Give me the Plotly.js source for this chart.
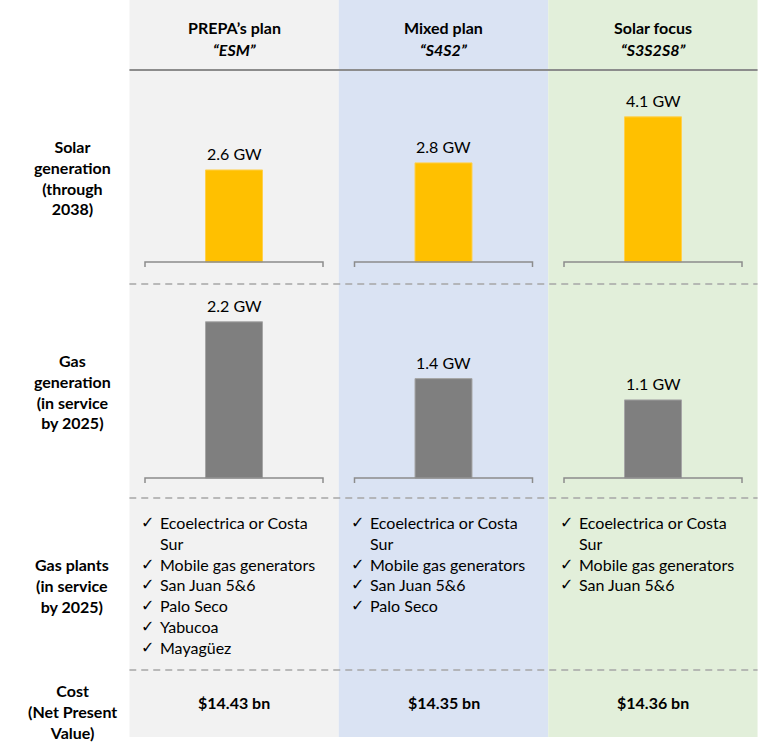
<!DOCTYPE html>
<html>
<head>
<meta charset="utf-8">
<script src="https://cdn.plot.ly/plotly-3.0.1.min.js"></script>
<style>html,body{margin:0;padding:0;background:#fff;}#chart{width:760px;height:752px;}</style>
</head>
<body>
<div id="chart"></div>
<script>
// ---- data ----
const plans = ["PREPA’s plan", "Mixed plan", "Solar focus"];
const planCodes = ["“ESM”", "“S4S2”", "“S3S2S8”"];
const solarGW = [2.6, 2.8, 4.1];
const gasGW = [2.2, 1.4, 1.1];
const gasPlants = [
  ["Ecoelectrica or Costa<br>Sur", "Mobile gas generators", "San Juan 5&6", "Palo Seco", "Yabucoa", "Mayagüez"],
  ["Ecoelectrica or Costa<br>Sur", "Mobile gas generators", "San Juan 5&6", "Palo Seco"],
  ["Ecoelectrica or Costa<br>Sur", "Mobile gas generators", "San Juan 5&6"]
];
const costs = ["$14.43 bn", "$14.35 bn", "$14.36 bn"];
const rowLabels = [
  "Solar<br>generation<br>(through<br>2038)",
  "Gas<br>generation<br>(in service<br>by 2025)",
  "Gas plants<br>(in service<br>by 2025)",
  "Cost<br>(Net Present<br>Value)"
];

// ---- layout helpers ----
const W = 760, H = 752;
const FONT = "Lato, 'Open Sans', sans-serif";
const py = p => 1 - p / H;           // pixel row -> paper y
const colBg = ["#f2f2f2", "#dae3f3", "#e2efda"];
const xLeft = 129.25, xRight = 757.75;
const colW = (xRight - xLeft) / 3;
const pxCol = p => p / colW;         // pixels -> category units

// solar subplot
const sBase = 262, sScale = 35.4, sTop = 72, sBot = 270;
// gas subplot
const gBase = 478, gScale = 71, gTop = 290, gBot = 486;

const traces = [
  {type: "bar", x: plans, y: solarGW, xaxis: "x", yaxis: "y", width: 0.272,
   marker: {color: "#FFC000", line: {color: "#FFD04D", width: 1}}, hoverinfo: "skip"},
  {type: "bar", x: plans, y: gasGW, xaxis: "x2", yaxis: "y2", width: 0.272,
   marker: {color: "#7F7F7F", line: {color: "#A6A6A6", width: 1}}, hoverinfo: "skip"}
];

const shapes = [];
const annotations = [];

// column backgrounds
plans.forEach((p, i) => {
  shapes.push({type: "rect", xref: "x", yref: "paper", x0: i - 0.5, x1: i + 0.5,
    y0: py(737), y1: 1, fillcolor: colBg[i], line: {width: 0}, layer: "below"});
});
// header solid line
shapes.push({type: "line", xref: "x", yref: "paper", x0: -0.5, x1: 2.5, y0: py(70), y1: py(70),
  line: {color: "#8C8C8C", width: 2}});
// dashed separators
[284, 498, 670].forEach(p => shapes.push({type: "line", xref: "x", yref: "paper", x0: -0.5, x1: 2.5,
  y0: py(p), y1: py(p), line: {color: "#A6A6A6", width: 1.5, dash: "7px,5px"}}));
// brackets
const half = pxCol(89);
plans.forEach((p, i) => {
  [["x", "y", sScale], ["x2", "y2", gScale]].forEach(([xr, yr, sc]) => {
    const t = -5 / sc;
    shapes.push({type: "path", xref: xr, yref: yr,
      path: `M ${i - half},${t} L ${i - half},0 L ${i + half},0 L ${i + half},${t}`,
      line: {color: "#8C8C8C", width: 1.5}});
  });
});

// bar value labels
plans.forEach((p, i) => {
  annotations.push({xref: "x", yref: "y", x: p, y: solarGW[i], yanchor: "bottom", yshift: 5,
    text: solarGW[i].toFixed(1) + " GW", showarrow: false, font: {size: 16, color: "#000"}});
  annotations.push({xref: "x2", yref: "y2", x: p, y: gasGW[i], yanchor: "bottom", yshift: 5,
    text: gasGW[i].toFixed(1) + " GW", showarrow: false, font: {size: 16, color: "#000"}});
});

// headers
plans.forEach((p, i) => {
  annotations.push({xref: "x", yref: "paper", x: i, y: py(27), yanchor: "middle",
    text: "<b>" + p + "</b>", showarrow: false, font: {size: 16, color: "#000"}});
  annotations.push({xref: "x", yref: "paper", x: i, y: py(50), yanchor: "middle",
    text: "<b><i>" + planCodes[i] + "</i></b>", showarrow: false, font: {size: 16, color: "#000"}});
});

// row labels
const rowCenters = [177, 391, 585, 711];
rowLabels.forEach((t, k) => {
  annotations.push({xref: "paper", yref: "paper", x: 72 / W, y: py(rowCenters[k]), xanchor: "center",
    yanchor: "middle", text: "<b>" + t + "</b>", showarrow: false, align: "center",
    font: {size: 16, color: "#000"}});
});

// gas plant checklists
gasPlants.forEach((list, i) => {
  const lines = [];
  const checks = [];
  list.forEach(item => {
    const n = item.split("<br>").length;
    lines.push(item);
    checks.push("✓");
    for (let k = 1; k < n; k++) checks.push("&nbsp;");
  });
  annotations.push({xref: "x", yref: "paper", x: i - 0.5 + pxCol(29), y: py(511), xanchor: "left",
    yanchor: "top", align: "left", text: lines.join("<br>"), showarrow: false,
    font: {size: 16, color: "#000"}});
  annotations.push({xref: "x", yref: "paper", x: i - 0.5 + pxCol(10), y: py(511), xanchor: "left",
    yanchor: "top", align: "left", text: checks.join("<br>"), showarrow: false,
    font: {size: 16, color: "#000", family: "'DejaVu Sans', sans-serif"}});
});

// costs
costs.forEach((c, i) => {
  annotations.push({xref: "x", yref: "paper", x: i, y: py(702), yanchor: "middle",
    text: "<b>" + c + "</b>", showarrow: false, font: {size: 16, color: "#000"}});
});

const axX = {domain: [xLeft / W, xRight / W], range: [-0.5, 2.5], type: "category",
  showticklabels: false, showgrid: false, zeroline: false, showline: false, ticks: "", fixedrange: true};

const layout = {
  width: W, height: H,
  margin: {l: 0, r: 0, t: 0, b: 0},
  paper_bgcolor: "#ffffff",
  plot_bgcolor: "rgba(0,0,0,0)",
  font: {family: FONT, size: 16, color: "#000"},
  showlegend: false,
  xaxis: Object.assign({}, axX, {anchor: "y"}),
  yaxis: {domain: [py(sBot), py(sTop)], range: [-(sBot - sBase) / sScale, (sBase - sTop) / sScale],
    showticklabels: false, showgrid: false, zeroline: false, showline: false, ticks: "", fixedrange: true, anchor: "x"},
  xaxis2: Object.assign({}, axX, {anchor: "y2"}),
  yaxis2: {domain: [py(gBot), py(gTop)], range: [-(gBot - gBase) / gScale, (gBase - gTop) / gScale],
    showticklabels: false, showgrid: false, zeroline: false, showline: false, ticks: "", fixedrange: true, anchor: "x2"},
  shapes: shapes,
  annotations: annotations
};

Plotly.newPlot("chart", traces, layout, {displayModeBar: false, staticPlot: true});
</script>
</body>
</html>
